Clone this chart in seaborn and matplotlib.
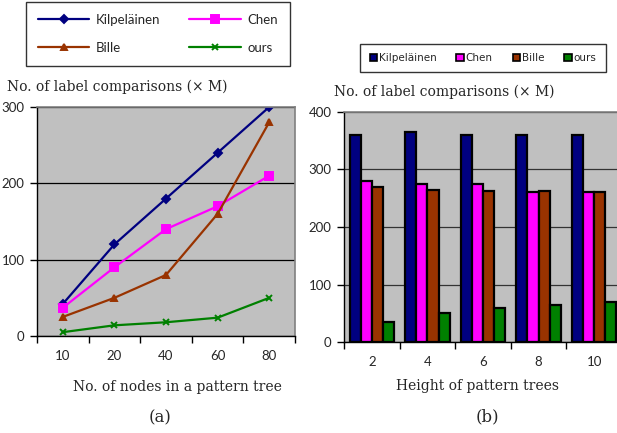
import numpy as np
import pandas as pd
import matplotlib
matplotlib.use("Agg")
import matplotlib.pyplot as plt
import seaborn as sns
from matplotlib.patches import Patch
from matplotlib.lines import Line2D

methods = ["Kilpeläinen", "Chen", "Bille", "ours"]
colors = ["#000080", "#FF00FF", "#993300", "#008000"]
markers = ["D", "s", "^", "x"]

nodes = ["10", "20", "40", "60", "80"]
kilp_a = [42, 120, 180, 240, 300]
chen_a = [37, 90, 140, 170, 210]
bille_a = [25, 50, 80, 160, 280]
ours_a = [5, 14, 18, 24, 50]

heights = ["2", "4", "6", "8", "10"]
kilp_b = [360, 365, 360, 360, 360]
chen_b = [280, 275, 275, 260, 260]
bille_b = [270, 265, 263, 263, 260]
ours_b = [35, 50, 60, 65, 70]

ylabel = "No. of label comparisons (× M)"
xlabel_a = "No. of nodes in a pattern tree"
xlabel_b = "Height of pattern trees"

dfa = pd.DataFrame({
    "x": nodes * 4,
    "value": kilp_a + chen_a + bille_a + ours_a,
    "method": sum([[m] * 5 for m in methods], []),
})
dfb = pd.DataFrame({
    "x": heights * 4,
    "value": kilp_b + chen_b + bille_b + ours_b,
    "method": sum([[m] * 5 for m in methods], []),
})

sns.set_style("white")
plt.rcParams["font.family"] = ["Lato", "DejaVu Sans"]

fig = plt.figure(figsize=(6.17, 4.33), dpi=100)
W, H = 617, 433

def fx(px):
    return px / W

def fy(py):
    return 1 - py / H

serif = ["DejaVu Serif"]
gray_bg = "#C0C0C0"

# ---------- (a) line chart ----------
axA = fig.add_axes([fx(37), fy(336), fx(295) - fx(37), fy(107) - fy(336)])
sns.pointplot(data=dfa, x="x", y="value", hue="method", order=nodes,
              hue_order=methods, palette=colors, markers=markers,
              linestyles="-", errorbar=None, ax=axA, legend=False,
              markersize=4, linewidth=1.6)
msizes = [4, 6, 5, 4.5]
for i, ln in enumerate(axA.lines[:4]):
    ln.set_markersize(msizes[i])
    ln.set_markeredgewidth(1.4)

axA.set_facecolor(gray_bg)
axA.set_ylim(0, 300)
axA.set_xlim(-0.5, 4.5)
axA.set_yticks([0, 100, 200, 300])
axA.yaxis.grid(True, color="black", linewidth=0.9)
axA.set_axisbelow(True)
axA.set_xlabel("")
axA.set_ylabel("")

# ---------- (b) bar chart ----------
axB = fig.add_axes([fx(344), fy(342), fx(622) - fx(344), fy(112) - fy(342)])
sns.barplot(data=dfb, x="x", y="value", hue="method", order=heights,
            hue_order=methods, palette=colors, saturation=1,
            edgecolor="black", linewidth=1.6, errorbar=None, ax=axB,
            legend=False)
axB.set_facecolor(gray_bg)
axB.set_ylim(0, 400)
axB.set_xlim(-0.5, 4.5)
axB.set_yticks([0, 100, 200, 300, 400])
axB.yaxis.grid(True, color="#333333", linewidth=0.9)
axB.set_axisbelow(True)
axB.set_xlabel("")
axB.set_ylabel("")

for ax in (axA, axB):
    for s in ("left", "bottom"):
        ax.spines[s].set_color("black")
        ax.spines[s].set_linewidth(1.0)
    for s in ("top", "right"):
        ax.spines[s].set_color("#808080")
        ax.spines[s].set_linewidth(1.2)
    ax.set_xticks(np.arange(-0.5, 5.0, 1.0), minor=True)
    ax.tick_params(axis="x", which="major", length=0, pad=10, labelsize=9.5)
    ax.tick_params(axis="x", which="minor", length=5, width=1, color="black",
                   direction="out", bottom=True)
    ax.tick_params(axis="y", length=5, width=1, color="black",
                   direction="out", left=True, labelsize=9.5, pad=4)

# ---------- titles / labels ----------
fig.text(fx(7), fy(87), ylabel, family=serif, fontsize=10,
         ha="left", va="center")
fig.text(fx(334), fy(92), ylabel, family=serif, fontsize=10,
         ha="left", va="center")
fig.text(fx(177), fy(387), xlabel_a, family=serif, fontsize=10,
         ha="center", va="center")
fig.text(fx(478), fy(386), xlabel_b, family=serif, fontsize=10,
         ha="center", va="center")
fig.text(fx(160), fy(418), "(a)", family=serif, fontsize=12,
         ha="center", va="center")
fig.text(fx(487), fy(417), "(b)", family=serif, fontsize=12,
         ha="center", va="center")

# ---------- legends ----------
line_handles = [Line2D([0], [0], color=c, marker=m, markersize=s,
                       markeredgewidth=1.4, linewidth=1.6)
                for c, m, s in zip(colors, markers, msizes)]
order = [0, 2, 1, 3]
legA = fig.legend([line_handles[i] for i in order],
                  [methods[i] for i in order],
                  loc="center", bbox_to_anchor=(fx(158), fy(34)), ncol=2,
                  frameon=True, fancybox=False, edgecolor="black",
                  fontsize=9.5, handlelength=3.9, labelspacing=1.2,
                  columnspacing=2.2, borderpad=0.9, handletextpad=0.5)
legA.get_frame().set_linewidth(1.0)

patch_handles = [Patch(facecolor=c, edgecolor="black", linewidth=1.2)
                 for c in colors]
legB = fig.legend(patch_handles, methods,
                  loc="center", bbox_to_anchor=(fx(483), fy(58)), ncol=4,
                  frameon=True, fancybox=False, edgecolor="black",
                  prop={"family": ["Liberation Sans Narrow", "DejaVu Sans"],
                        "size": 7.5},
                  handlelength=0.7, handleheight=0.7, handletextpad=0.2,
                  columnspacing=1.9, borderpad=0.9)
legB.get_frame().set_linewidth(1.0)

fig.savefig("out.png", dpi=100)
